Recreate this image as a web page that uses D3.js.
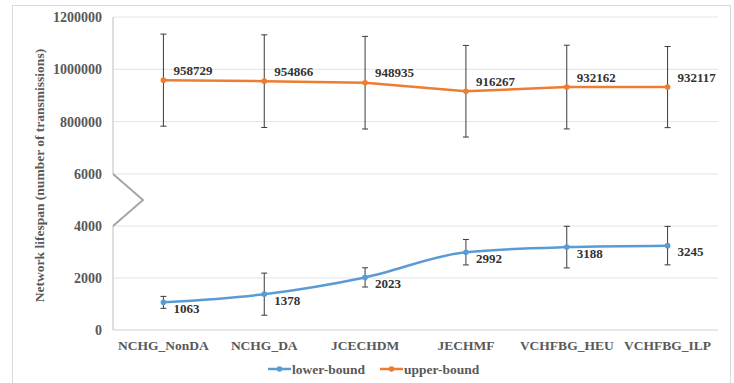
<!DOCTYPE html>
<html>
<head>
<meta charset="utf-8">
<script src="https://cdn.jsdelivr.net/npm/d3@7"></script>
<style>
  html, body { margin: 0; padding: 0; background: #fff; }
  svg { display: block; }
  text { font-family: "Liberation Serif", "DejaVu Serif", serif; font-weight: bold; }
</style>
</head>
<body>
<svg id="chart" width="734" height="383"></svg>
<script>
// Categories (algorithms)
const categories = ["NCHG_NonDA", "NCHG_DA", "JCECHDM", "JECHMF", "VCHFBG_HEU", "VCHFBG_ILP"];

// Lower-bound lifespan (number of transmissions) and its error half-widths
const lowerValues = [1063, 1378, 2023, 2992, 3188, 3245];
const lowerErrors = [230, 810, 370, 490, 800, 740];

// Upper-bound lifespan and its error half-widths
const upperValues = [958729, 954866, 948935, 916267, 932162, 932117];
const upperErrors = [176000, 177000, 177000, 175000, 160000, 155000];

// Axis ticks for the two panels of the broken axis
const upperTicks = [800000, 1000000, 1200000];
const lowerTicks = [0, 2000, 4000, 6000];

const seriesNames = ["lower-bound", "upper-bound"];
const colors = { "lower-bound": "#5b9bd5", "upper-bound": "#ed7d31" };

const svg = d3.select("#chart");

// outer frame
svg.append("rect")
  .attr("x", 12.5).attr("y", 5.5).attr("width", 718).attr("height", 390)
  .attr("fill", "none").attr("stroke", "#d9d9d9");

const left = 113, right = 718;
const x = d3.scaleBand().domain(categories).range([left, right]);
const cx = d => x(d) + x.bandwidth() / 2;

// upper panel: 600000..1200000, lower panel: 0..6000
const yU = d3.scaleLinear().domain([600000, 1200000]).range([174, 17]);
const yL = d3.scaleLinear().domain([0, 6000]).range([330, 174]);

// gridlines
const grid = svg.append("g");
upperTicks.forEach(t => {
  grid.append("line").attr("x1", left).attr("x2", right)
    .attr("y1", yU(t)).attr("y2", yU(t)).attr("stroke", "#e3e3e3").attr("stroke-width", 1);
});
lowerTicks.filter(t => t > 0).forEach(t => {
  grid.append("line").attr("x1", left).attr("x2", right)
    .attr("y1", yL(t)).attr("y2", yL(t)).attr("stroke", "#e3e3e3").attr("stroke-width", 1);
});

// bottom axis line
svg.append("line").attr("x1", left).attr("x2", right)
  .attr("y1", yL(0)).attr("y2", yL(0)).attr("stroke", "#d0d0d0").attr("stroke-width", 1.2);

// left axis with break marker
const breakTop = yU(600000), breakBottom = yL(4000);
svg.append("path")
  .attr("d", d3.line()([[left, yU(1200000)], [left, breakTop]]))
  .attr("stroke", "#c8c8c8").attr("fill", "none").attr("stroke-width", 1.2);
svg.append("path")
  .attr("d", d3.line()([[left, breakBottom], [left, yL(0)]]))
  .attr("stroke", "#c8c8c8").attr("fill", "none").attr("stroke-width", 1.2);
svg.append("path")
  .attr("d", d3.line()([[left, breakTop], [left + 30, (breakTop + breakBottom) / 2], [left, breakBottom]]))
  .attr("stroke", "#a6a6a6").attr("fill", "none").attr("stroke-width", 2);

// y tick labels
const tickLabel = (y, txt) => svg.append("text")
  .attr("x", 102).attr("y", y).attr("dy", "0.35em")
  .attr("text-anchor", "end").attr("font-size", 14).attr("fill", "#595959").text(txt);
upperTicks.forEach(t => tickLabel(yU(t), t));
lowerTicks.forEach(t => tickLabel(yL(t), t));

// x axis labels
const xAxis = d3.axisBottom(x).tickSize(0).tickPadding(0);
const xg = svg.append("g").attr("transform", `translate(0,${yL(0)})`).call(xAxis);
xg.select(".domain").remove();
xg.selectAll("text")
  .attr("y", 20).attr("dy", 0)
  .attr("font-size", 13.5).attr("fill", "#595959")
  .style("font-family", "'Liberation Serif', 'DejaVu Serif', serif").style("font-weight", "bold");

// y axis title
svg.append("text")
  .attr("transform", `translate(44,${(yU(1200000) + yL(0)) / 2 + 2}) rotate(-90)`)
  .attr("text-anchor", "middle").attr("font-size", 13.5).attr("fill", "#595959")
  .text("Network lifespan (number of transmissions)");

// draws one series: error bars, line, markers, labels
function drawSeries(values, errors, y, name, curve, labelDy) {
  const color = colors[name];
  const pts = categories.map((c, i) => ({ c, v: values[i], e: errors[i] }));
  const g = svg.append("g");

  // error bars
  pts.forEach(p => {
    const xx = cx(p.c), y1 = y(p.v + p.e), y2 = y(p.v - p.e);
    g.append("line").attr("x1", xx).attr("x2", xx).attr("y1", y1).attr("y2", y2)
      .attr("stroke", "#3a3a3a").attr("stroke-width", 1);
    [y1, y2].forEach(yy => g.append("line")
      .attr("x1", xx - 3).attr("x2", xx + 3).attr("y1", yy).attr("y2", yy)
      .attr("stroke", "#3a3a3a").attr("stroke-width", 1));
  });

  g.append("path")
    .datum(pts)
    .attr("d", d3.line().x(p => cx(p.c)).y(p => y(p.v)).curve(curve))
    .attr("fill", "none").attr("stroke", color).attr("stroke-width", 2.5);

  g.selectAll("circle").data(pts).join("circle")
    .attr("cx", p => cx(p.c)).attr("cy", p => y(p.v)).attr("r", 2.8)
    .attr("fill", color);

  g.selectAll("text.lbl").data(pts).join("text")
    .attr("class", "lbl")
    .attr("x", p => cx(p.c) + 10).attr("y", p => y(p.v) + labelDy)
    .attr("dy", "0.35em").attr("font-size", 13).attr("fill", "#333")
    .text(p => p.v);
}

drawSeries(upperValues, upperErrors, yU, "upper-bound", d3.curveLinear, -10);
drawSeries(lowerValues, lowerErrors, yL, "lower-bound", d3.curveMonotoneX, 6);

// legend
const legend = svg.append("g").attr("transform", "translate(268,369)");
let lx = 0;
seriesNames.forEach(name => {
  const item = legend.append("g").attr("transform", `translate(${lx},0)`);
  item.append("line").attr("x1", 0).attr("x2", 23).attr("y1", 0).attr("y2", 0)
    .attr("stroke", colors[name]).attr("stroke-width", 2.5);
  item.append("circle").attr("cx", 11.5).attr("cy", 0).attr("r", 2.8).attr("fill", colors[name]);
  item.append("text").attr("x", 24).attr("y", 0).attr("dy", "0.35em")
    .attr("font-size", 13.5).attr("fill", "#595959").text(name);
  lx += 112;
});
</script>
</body>
</html>
